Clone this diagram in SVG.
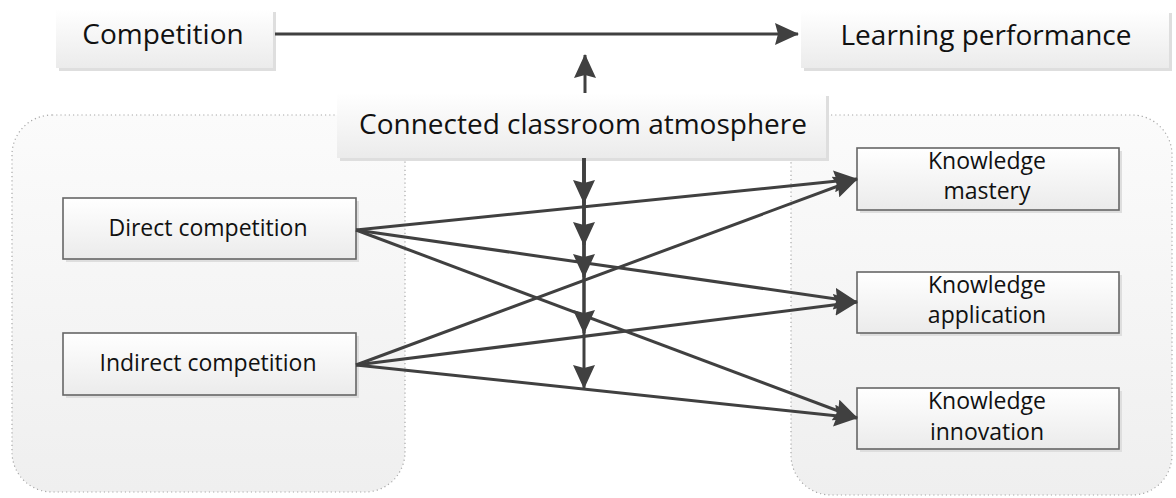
<svg xmlns="http://www.w3.org/2000/svg" width="1176" height="498" viewBox="0 0 1176 498">
<defs>
<linearGradient id="gBox" x1="0" y1="0" x2="0" y2="1"><stop offset="0" stop-color="#ffffff"/><stop offset="1" stop-color="#ebebeb"/></linearGradient>
<linearGradient id="gCont" x1="0" y1="0" x2="0" y2="1"><stop offset="0" stop-color="#fbfbfb"/><stop offset="1" stop-color="#efefef"/></linearGradient>
<marker id="ah" viewBox="0 0 24 22" refX="23" refY="11" markerWidth="24" markerHeight="22" markerUnits="userSpaceOnUse" orient="auto"><path d="M0,0 L24,11 L0,22 L3,11 Z" fill="#404040"/></marker>
</defs>
<style>
.cont{fill:url(#gCont);stroke:#a8a8a8;stroke-width:1.2;stroke-dasharray:1.2 3}
.big{fill:url(#gBox)}
.sh{fill:#dedede}
.sm{fill:url(#gBox);stroke:#666;stroke-width:1.6}
.t{font-family:"Open Sans","Noto Sans",sans-serif;fill:#111;text-anchor:middle}
.tb{font-size:28px}
.ts{font-size:23px}
.c{stroke:#404040;stroke-width:3;fill:none;marker-end:url(#ah)}
</style>
<g id="containerLeft"><rect class="cont" x="12" y="115" width="393" height="377" rx="40"/></g>
<g id="containerRight"><rect class="cont" x="791" y="115" width="381" height="380" rx="40"/></g>
<g id="competition"><rect class="sh" x="59" y="12" width="217" height="59"/><rect class="big" x="56" y="9" width="217" height="59"/><text class="t tb" x="163" y="44">Competition</text></g>
<g id="learningPerformance"><rect class="sh" x="804" y="13" width="368" height="58"/><rect class="big" x="801" y="10" width="368" height="58"/><text class="t tb" x="986" y="45">Learning performance</text></g>
<g id="atmosphere"><rect class="sh" x="340" y="96" width="489" height="65"/><rect class="big" x="337" y="93" width="489" height="65"/><text class="t tb" x="583" y="134">Connected classroom atmosphere</text></g>
<g id="directCompetition"><rect class="sh" x="66" y="201" width="293" height="61"/><rect class="sm" x="63" y="198" width="293" height="61"/><text class="t ts" x="208" y="236">Direct competition</text></g>
<g id="indirectCompetition"><rect class="sh" x="66" y="336" width="293" height="62"/><rect class="sm" x="63" y="333" width="293" height="62"/><text class="t ts" x="208" y="371">Indirect competition</text></g>
<g id="knowledgeMastery"><rect class="sh" x="860" y="151" width="262" height="62"/><rect class="sm" x="857" y="148" width="262" height="62"/><text class="t ts" x="987" y="169">Knowledge</text><text class="t ts" x="987" y="199">mastery</text></g>
<g id="knowledgeApplication"><rect class="sh" x="860" y="275" width="262" height="61"/><rect class="sm" x="857" y="272" width="262" height="61"/><text class="t ts" x="987" y="293">Knowledge</text><text class="t ts" x="987" y="323">application</text></g>
<g id="knowledgeInnovation"><rect class="sh" x="860" y="391" width="262" height="61"/><rect class="sm" x="857" y="388" width="262" height="61"/><text class="t ts" x="987" y="409">Knowledge</text><text class="t ts" x="987" y="440">innovation</text></g>
<g id="connectors">
<path class="c" d="M275,34 L798,34"/>
<path class="c" d="M585,93 L585,55"/>
<path class="c" d="M356,230 L857,179"/>
<path class="c" d="M356,230 L857,302"/>
<path class="c" d="M356,230 L857,418"/>
<path class="c" d="M356,365 L857,179"/>
<path class="c" d="M356,365 L857,302"/>
<path class="c" d="M356,365 L857,418"/>
<path class="c" d="M584,158 L584,203"/>
<path class="c" d="M584,158 L584,245"/>
<path class="c" d="M584,158 L584,277"/>
<path class="c" d="M584,158 L584,333"/>
<path class="c" d="M584,158 L584,388"/>
</g>
</svg>
